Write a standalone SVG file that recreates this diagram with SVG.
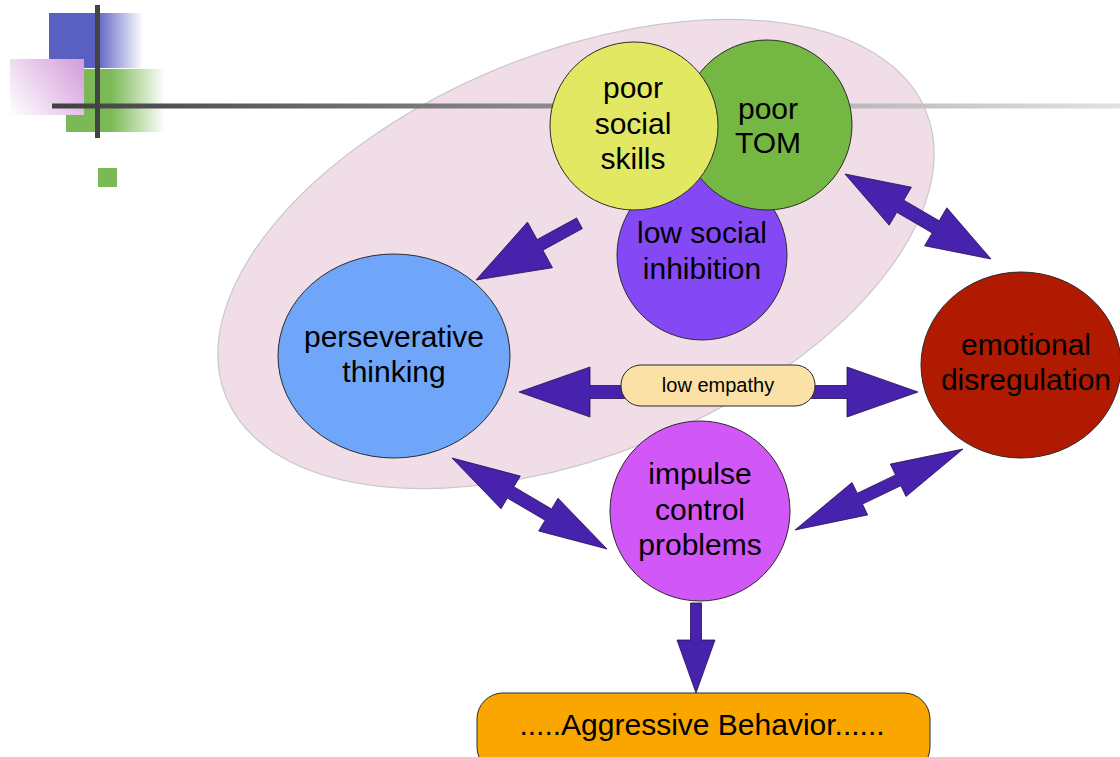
<svg xmlns="http://www.w3.org/2000/svg" width="1120" height="757" viewBox="0 0 1120 757">
<defs>
<linearGradient id="gBlue" x1="49" y1="0" x2="143" y2="0" gradientUnits="userSpaceOnUse">
<stop offset="0" stop-color="#5a60c2"/><stop offset="0.5" stop-color="#5a60c2"/><stop offset="1" stop-color="#5a60c2" stop-opacity="0"/>
</linearGradient>
<linearGradient id="gGreen" x1="66" y1="0" x2="165" y2="0" gradientUnits="userSpaceOnUse">
<stop offset="0" stop-color="#7ab955"/><stop offset="0.45" stop-color="#7ab955"/><stop offset="1" stop-color="#7ab955" stop-opacity="0"/>
</linearGradient>
<linearGradient id="gPink" x1="84" y1="59" x2="10" y2="115" gradientUnits="userSpaceOnUse">
<stop offset="0" stop-color="#d39bd9"/><stop offset="1" stop-color="#ffffff"/>
</linearGradient>
<linearGradient id="gLine" x1="52" y1="0" x2="1120" y2="0" gradientUnits="userSpaceOnUse">
<stop offset="0" stop-color="#404040"/><stop offset="1" stop-color="#e2e2e2"/>
</linearGradient>
<style>
.node{stroke:#2b2b2b;stroke-width:1}
.lbl{font-family:"Liberation Sans",Arial,Helvetica,sans-serif;font-size:30px;fill:#000;text-anchor:middle}
.small{font-size:20px}
.arrow{fill:#4722ad;stroke:#24104f;stroke-width:0.8;stroke-linejoin:miter}
</style>
</defs>
<rect width="1120" height="757" fill="#ffffff"/>

<g id="decoration">
<rect x="49" y="13" width="94" height="55" fill="url(#gBlue)"/>
<rect x="66" y="69" width="99" height="63" fill="url(#gGreen)"/>
<rect x="10" y="59" width="74" height="56" fill="url(#gPink)"/>
<rect x="98" y="168" width="19" height="19" fill="#7ab955"/>
</g>

<g id="cluster">
<ellipse cx="576" cy="254" rx="378" ry="201" transform="rotate(-22.2 576 254)" fill="#f0dde7" stroke="#c9c9c9" stroke-width="1.2"/>
</g>

<g id="rule-lines">
<rect x="52" y="103.5" width="1068" height="5" fill="url(#gLine)"/>
<rect x="95" y="5" width="5" height="133" fill="#434343"/>
</g>

<g id="node-low-social-inhibition">
<circle class="node" cx="702" cy="255" r="85" fill="#8548f5"/>
<text class="lbl" x="702" y="243">low social</text>
<text class="lbl" x="702" y="279">inhibition</text>
</g>
<g id="node-poor-tom">
<circle class="node" cx="767" cy="125" r="85" fill="#74b742"/>
<text class="lbl" x="768" y="119">poor</text>
<text class="lbl" x="768" y="153">TOM</text>
</g>
<g id="node-poor-social-skills">
<circle class="node" cx="634" cy="126" r="84" fill="#e3e863"/>
<text class="lbl" x="633" y="98">poor</text>
<text class="lbl" x="633" y="134">social</text>
<text class="lbl" x="633" y="169">skills</text>
</g>
<g id="node-perseverative-thinking">
<ellipse class="node" cx="394" cy="356" rx="116" ry="102" fill="#6fa6f9"/>
<text class="lbl" x="394" y="347">perseverative</text>
<text class="lbl" x="394" y="382">thinking</text>
</g>
<g id="node-emotional-disregulation">
<ellipse class="node" cx="1021" cy="365" rx="100" ry="93" fill="#b01a00"/>
<text class="lbl" x="1026" y="355">emotional</text>
<text class="lbl" x="1026" y="390">disregulation</text>
</g>
<g id="node-impulse-control-problems">
<circle class="node" cx="700" cy="511" r="90" fill="#d157f6"/>
<text class="lbl" x="700" y="484">impulse</text>
<text class="lbl" x="700" y="520">control</text>
<text class="lbl" x="700" y="555">problems</text>
</g>
<g id="node-aggressive-behavior">
<rect class="node" x="477" y="693" width="453" height="80" rx="26" fill="#f9a700"/>
<text class="lbl" x="702" y="735">.....Aggressive Behavior......</text>
</g>

<g id="connectors">
<polygon class="arrow" points="476,280 552.5,267.7 542.9,250.2 582.4,228.6 576.6,218 537.1,239.6 527.5,222.1"/>
<polygon class="arrow" points="845,174 889.2,225.2 896.8,212.3 932.2,232.9 924.6,245.8 991,259 946.8,207.8 939.2,220.8 903.8,200.2 911.4,187.2"/>
<polygon class="arrow" points="519,392 590,367 590,385.5 847,385.5 847,367 918,392 847,417 847,398.5 590,398.5 590,417"/>
<polygon class="arrow" points="452,458 501,508.8 507.4,498.1 545.1,520.2 538.7,531 607,549 558,498.2 551.6,509 513.9,486.8 520.3,476.1"/>
<polygon class="arrow" points="795,530 867.7,514.9 862.5,504.1 900.8,485.7 906,496.5 963,449 890.3,464.1 895.5,474.9 857.3,493.3 852,482.5"/>
<polygon class="arrow" points="690.5,603 701.5,603 701.5,640 715,640 696,693 677,640 690.5,640"/>
</g>

<g id="node-low-empathy">
<rect class="node" x="621" y="365" width="194" height="41" rx="20" fill="#fce1a6"/>
<text class="lbl small" x="718" y="392">low empathy</text>
</g>
</svg>
